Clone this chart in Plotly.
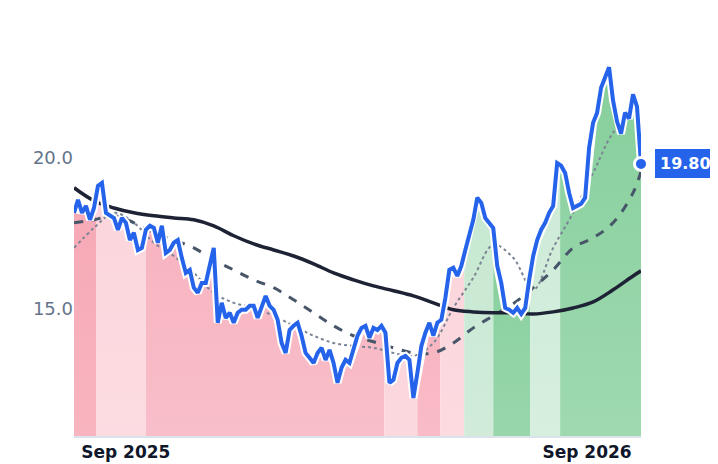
import numpy as np
import pandas as pd
import plotly.graph_objects as go

start = pd.Timestamp("2025-07-22")
price = [18.18,18.61,18.18,18.41,17.95,18.34,19.07,19.17,18.18,18.08,18.01,17.62,18.01,17.85,17.28,17.52,16.95,17.02,17.62,17.75,
         17.68,17.19,17.75,16.85,16.95,17.19,17.28,16.69,16.19,16.29,15.70,15.53,15.86,15.86,16.42,17.02,14.54,15.20,14.70,14.87,
         14.54,14.87,14.97,14.97,15.10,15.10,14.70,15.03,15.43,15.10,14.97,14.64,13.87,13.54,14.30,14.44,14.54,14.11,13.54,13.38,
         13.21,13.54,13.71,13.31,13.64,13.21,12.55,13.05,13.31,13.21,13.64,14.11,14.37,14.44,14.04,14.37,14.30,14.44,14.21,12.55,
         12.65,13.21,13.38,13.44,13.31,12.05,12.88,13.77,14.21,14.54,14.11,14.54,14.64,15.36,16.29,16.36,16.09,16.42,16.95,17.42,
         17.95,18.68,18.51,18.01,17.85,17.68,16.42,15.86,15.03,14.97,14.87,15.03,14.83,15.03,15.96,16.75,17.28,17.62,17.85,18.18,
         18.41,19.83,19.74,19.50,18.84,18.34,18.41,18.48,18.68,20.33,21.16,21.49,22.32,22.65,23.00,21.90,21.20,20.80,21.50,21.30,
         22.10,21.70,19.80]
ma200 = [19.01,18.58,18.34,18.18,18.08,18.01,17.95,17.75,17.42,17.15,16.95,16.75,16.49,16.19,15.96,15.76,15.60,15.43,15.20,14.97,
         14.90,14.87,14.87,14.83,14.90,15.03,15.23,15.63,16.09,16.26]
ma50 = [17.85,17.95,18.08,17.85,17.52,17.28,17.02,16.62,16.29,15.96,15.70,15.30,14.87,14.44,14.11,13.91,13.71,13.54,13.54,13.87,
        14.37,14.77,15.17,15.70,16.29,17.02,17.35,17.85,18.84,19.55]
ma20 = [17.02,17.68,18.18,17.85,17.19,16.75,16.19,15.53,15.20,15.03,14.77,14.44,14.11,13.87,13.77,13.71,13.54,13.44,13.87,15.03,
        16.03,17.12,16.69,15.63,17.02,18.18,19.50,20.83,21.49,20.30]
# band boundaries (days from start) and colours (top, bottom)
band_edges = [0, 17.4, 56.9, 245.6, 271.7, 289.9, 308.8, 331.8, 361.0, 384.7, 448.7]
band_colors = [("#f7a9b6", "#f9c3cc"), ("#fbd5dc", "#fde4e8"), ("#f7b3c0", "#fad0d7"), ("#fbd5dc", "#fde4e8"),
               ("#f8b4c1", "#fbd0d8"), ("#fbd5dc", "#fde4e8"), ("#c6e8d1", "#dff2e5"), ("#86cf9c", "#b5e2c2"),
               ("#cdebd7", "#e1f3e7"), ("#86cf9c", "#b5e2c2")]

step = 448.7 / (len(price) - 1)
pdays = np.arange(len(price)) * step
pdates = start + pd.to_timedelta(pdays, unit="D")
ma_step = 15.8
def ma_dates(n):
    d = np.arange(n) * ma_step
    d[-1] = min(d[-1], 448.7)
    return start + pd.to_timedelta(d, unit="D")

fig = go.Figure()
parr = np.array(price)
for i, (c_top, c_bot) in enumerate(band_colors):
    a, b = band_edges[i], band_edges[i + 1]
    inner = pdays[(pdays > a) & (pdays < b)]
    d = np.concatenate([[a], inner, [b]])
    y = np.interp(d, pdays, parr)
    fig.add_trace(go.Scatter(x=start + pd.to_timedelta(d, unit="D"), y=y, mode="lines", line=dict(width=0),
                             fill="tozeroy", fillgradient=dict(type="vertical", colorscale=[[0, c_bot], [1, c_top]]),
                             hoverinfo="skip", showlegend=False))

fig.add_trace(go.Scatter(x=ma_dates(len(ma20)), y=ma20, mode="lines", line=dict(color="#7b8494", width=2, dash="dot", shape="spline"), showlegend=False))
fig.add_trace(go.Scatter(x=ma_dates(len(ma50)), y=ma50, mode="lines", line=dict(color="#475569", width=3, dash="dash", shape="spline"), showlegend=False))
fig.add_trace(go.Scatter(x=ma_dates(len(ma200)), y=ma200, mode="lines", line=dict(color="#1e2235", width=3.5, shape="spline"), showlegend=False))
fig.add_trace(go.Scatter(x=pdates, y=price, mode="lines", line=dict(color="white", width=8), showlegend=False))
fig.add_trace(go.Scatter(x=pdates, y=price, mode="lines", line=dict(color="#2563eb", width=4), showlegend=False))
fig.add_trace(go.Scatter(x=[pdates[-1]], y=[price[-1]], mode="markers", cliponaxis=False,
                         marker=dict(color="#2563eb", size=13, line=dict(color="white", width=3)), showlegend=False))
fig.add_annotation(x=pdates[-1], y=price[-1], text="<b>%.2f</b>" % price[-1], showarrow=False, xanchor="left",
                   xshift=14, bgcolor="#2563eb", bordercolor="#2563eb", borderpad=4,
                   font=dict(color="white", size=16, family="DejaVu Sans"))

fig.update_layout(width=718, height=464, margin=dict(l=66, r=85, t=20, b=36),
                  plot_bgcolor="white", paper_bgcolor="white", hovermode=False,
                  font=dict(family="DejaVu Sans"))
fig.update_xaxes(range=[start, pdates[-1]], showgrid=False, zeroline=False, tickvals=["2025-09-01", "2026-09-01"],
                 ticktext=["<b>Sep 2025</b>", "<b>Sep 2026</b>"], tickfont=dict(size=17, color="#0f172a"),
                 showline=True, linecolor="#dde3ea", linewidth=2, ticks="", automargin=False)
fig.update_yaxes(range=[10.79, 24.3], showgrid=False, zeroline=False, tickvals=[15, 20], tickformat=".1f",
                 tickfont=dict(size=18, color="#64748b"), ticks="", automargin=False)
fig.write_html("out.html")
